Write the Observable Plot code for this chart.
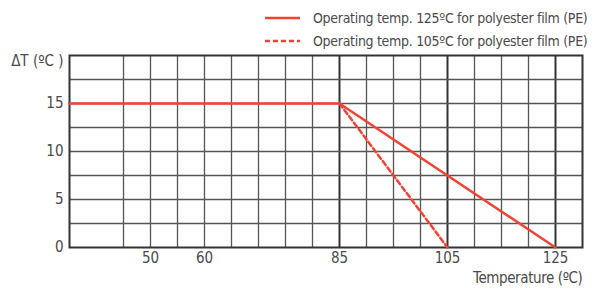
<!DOCTYPE html>
<html>
<head>
<meta charset="utf-8">
<script src="https://cdn.jsdelivr.net/npm/d3@7"></script>
<script src="https://cdn.jsdelivr.net/npm/@observablehq/plot@0.6"></script>
<style>
  html, body { margin: 0; padding: 0; background: #fff; overflow: hidden; }
  #wrap { position: relative; width: 595px; height: 291px; font-family: "Liberation Sans Narrow", "DejaVu Sans Condensed", sans-serif; font-stretch: condensed; color: #4a4a4a; }
  .leg { position: absolute; left: 265px; display: flex; align-items: center; font-size: 14px; letter-spacing: -0.3px; white-space: nowrap; }
  .leg svg { margin-right: 13px; }
</style>
</head>
<body>
<div id="wrap"></div>
<script>
// Data
const solidSeries = [
  {t: 35, dT: 15},
  {t: 85, dT: 15},
  {t: 125, dT: 0}
];
const dashedSeries = [
  {t: 85, dT: 15},
  {t: 105, dT: 0}
];
const xTicks = [50, 60, 85, 105, 125];
const yTicks = [0, 5, 10, 15];
const xGrid = [45, 50, 55, 60, 65, 70, 75, 80, 90, 95, 100, 110, 115, 120];
const xGridHeavy = [85, 105, 125];
const yGrid = [2.5, 5, 7.5, 10, 12.5, 15, 17.5];
const legendLabels = [
  "Operating temp. 125ºC for polyester film (PE)",
  "Operating temp. 105ºC for polyester film (PE)"
];
const red = "#ef4433";

const chart = Plot.plot({
  width: 595,
  height: 291,
  marginLeft: 69,
  marginRight: 13,
  marginTop: 55,
  marginBottom: 44,
  style: {fontFamily: "'Liberation Sans Narrow', 'DejaVu Sans Condensed', sans-serif", fontSize: "15px", color: "#4a4a4a", background: "#fff"},
  x: {domain: [35, 130]},
  y: {domain: [0, 20]},
  marks: [
    Plot.ruleX(xGrid, {stroke: "#555", strokeWidth: 1.3}),
    Plot.ruleX(xGridHeavy, {stroke: "#333", strokeWidth: 2}),
    Plot.ruleY(yGrid, {stroke: "#555", strokeWidth: 1.3}),
    Plot.frame({stroke: "#333", strokeWidth: 2}),
    Plot.line(solidSeries, {x: "t", y: "dT", stroke: red, strokeWidth: 2.5}),
    Plot.line(dashedSeries, {x: "t", y: "dT", stroke: red, strokeWidth: 2.5, strokeDasharray: "5,3"}),
    Plot.axisX({ticks: xTicks, tickSize: 0, tickPadding: 5, label: null, fill: "#4a4a4a"}),
    Plot.axisY({ticks: yTicks, tickSize: 0, tickPadding: 6, label: null, fill: "#4a4a4a"}),
    Plot.text(["ΔT (ºC )"], {frameAnchor: "top-left", dx: -6, textAnchor: "end", fill: "#4a4a4a"}),
    Plot.text(["Temperature (ºC)"], {frameAnchor: "bottom-right", dy: 35, textAnchor: "end", fill: "#4a4a4a", className: "xlab"})
  ]
});

const wrap = document.getElementById("wrap");
wrap.appendChild(chart);
chart.querySelectorAll(".xlab text").forEach(t => t.setAttribute("letter-spacing", "-0.4"));

const legTops = [8, 31];
legendLabels.forEach((lab, i) => {
  const d = document.createElement("div");
  d.className = "leg";
  d.style.top = legTops[i] + "px";
  d.innerHTML = `<svg width="35" height="20"><line x1="0" x2="35" y1="10" y2="10" stroke="${red}" stroke-width="2.5" ${i === 1 ? 'stroke-dasharray="5,3"' : ''}/></svg><span>${lab}</span>`;
  wrap.appendChild(d);
});
</script>
</body>
</html>
